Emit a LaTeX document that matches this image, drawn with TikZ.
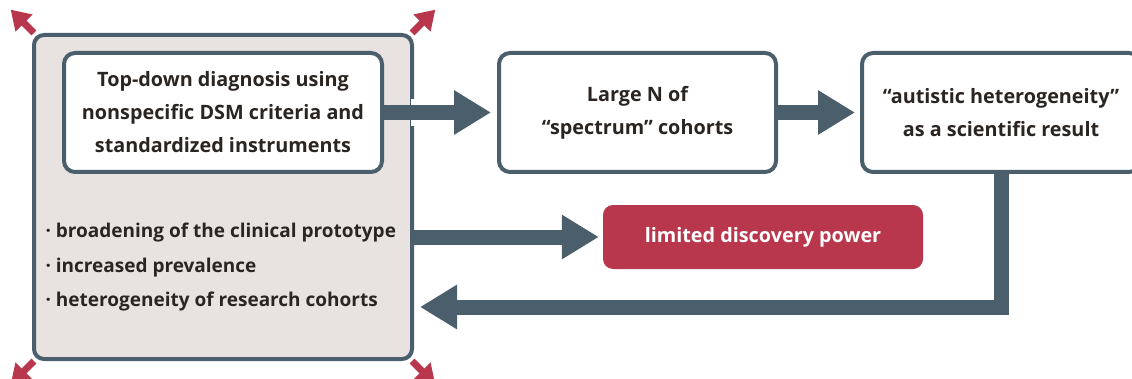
\documentclass[tikz,border=0pt]{standalone}
\usepackage{fontspec}
\setmainfont{Open Sans}
\usetikzlibrary{arrows.meta, positioning}
\definecolor{slate}{HTML}{4B5E6C}
\definecolor{panel}{HTML}{E8E3E0}
\definecolor{alert}{HTML}{B8374C}
\definecolor{ink}{HTML}{2B2522}
\tikzset{
		label font/.style={font=\bfseries\fontsize{19.8}{33}\selectfont},
		list font/.style={font=\bfseries\fontsize{19}{34.5}\selectfont},
		step box/.style={draw=slate, line width=4pt, fill=white, rounded corners=11pt,
			minimum height=119pt, align=center, text=ink, label font},
		panel box/.style={draw=slate, line width=4pt, fill=panel, rounded corners=10pt},
		alert box/.style={fill=alert, rounded corners=10pt, text=white, label font},
		big arrow/.style={draw=slate, line width=15pt, -{Triangle[length=37pt,width=42pt]}},
		red arrow/.style={draw=alert, line width=7pt, -{Triangle[length=19pt,width=23pt]}},
		cutout/.style={draw=white, line width=27pt}
	}
\begin{document}
\begin{tikzpicture}[x=1pt, y=1pt]
				\useasboundingbox (0,0) rectangle (1132,378);

				\path[red arrow] (34,345) -- ++(135:33pt);
				\path[red arrow] (412,345) -- ++(45:33pt);
				\path[red arrow] (34,17) -- ++(225:33pt);
				\path[red arrow] (412,17) -- ++(315:33pt);

				\node[panel box, minimum width=378pt, minimum height=324pt] (panel) at (223,181) {};
				\node[step box, minimum width=318pt, below=18pt of panel.north] (topdown)
					{Top-down diagnosis using\\ nonspecific DSM criteria and\\ standardized instruments};
				\node[step box, minimum width=277pt, right=113pt of topdown] (cohorts)
					{Large N of\\ “spectrum” cohorts};
				\node[step box, minimum width=278pt, right=82pt of cohorts] (result)
					{“autistic heterogeneity”\\ as a scientific result};
				\node[alert box, minimum width=320pt, minimum height=64pt] (power) at (763,141) {limited discovery power};
				\node[anchor=west, align=left, text=ink, list font] (effects) at (42,110.5)
					{· broadening of the clinical prototype\\ · increased prevalence\\ · heterogeneity of research cohorts};

				\path[cutout] ([xshift=-3pt]panel.east |- topdown.east) -- ++(8pt,0);
				\path[big arrow, shorten >= 6pt] (topdown) -- (cohorts);
				\path[big arrow, shorten >= 5pt] (cohorts) -- (result);
				\path[big arrow, shorten >= 4pt] (panel.east |- power) -- (power);
				\path[big arrow, shorten >= 6pt] (result.south) |- ([yshift=-110pt]panel.east);
			\end{tikzpicture}
\end{document}
